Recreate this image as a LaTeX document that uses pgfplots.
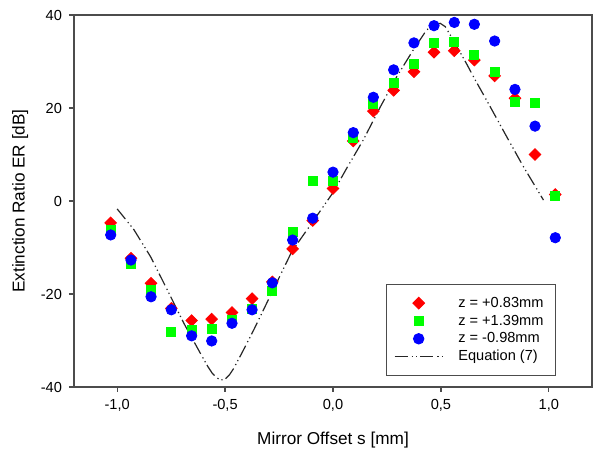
\documentclass[border=0pt]{standalone}
\usepackage{fontspec}
\setmainfont{Liberation Sans}
\usepackage{pgfplots}
\pgfplotsset{compat=1.18}
\definecolor{mred}{RGB}{255,0,0}
\definecolor{mgreen}{RGB}{0,255,0}
\definecolor{mblue}{RGB}{0,0,255}
\pgfplotsset{
  markleg/.style={legend image code/.code={\draw[##1] plot coordinates {(12pt,0pt)};}},
  lineleg/.style={legend image code/.code={\draw[##1] (0pt,0pt) -- (24pt,0pt);}},
}
\begin{document}
\begin{tikzpicture}
\begin{axis}[
  name=ax,
  scale only axis,
  width=259pt, height=186pt,
  xmin=-1.2, xmax=1.2, ymin=-40, ymax=40,
  xtick={-1,-0.5,0,0.5,1},
  ytick={-40,-20,0,20,40},
  xticklabels={{-1,0},{-0,5},{0,0},{0,5},{1,0}},
  yticklabels={-40,-20,0,20,40},
  tick align=outside,
  xtick pos=bottom, ytick pos=left,
  major tick length=2.5pt,
  axis line style={black!70, line width=0.6pt},
  every tick/.style={black!70, line width=0.6pt},
  tick label style={font=\fontsize{7.3}{8}\selectfont},
  label style={font=\fontsize{8.6}{10}\selectfont},
  xlabel={Mirror Offset s [mm]},
  ylabel={Extinction Ratio ER [dB]},
  xlabel style={at={(axis description cs:0.5,-0.1425)}, anchor=center},
  ylabel style={at={(axis description cs:-0.104,0.5)}, anchor=center},
  legend style={at={(axis description cs:0.9305,0.0296)}, anchor=south east,
    draw=black!70, line width=0.5pt, fill=white,
    font=\fontsize{7.3}{8}\selectfont,
    inner xsep=4pt, inner ysep=5pt,
    nodes={text height=5.6pt, text depth=1.5pt, inner ysep=0.9pt, inner xsep=2pt},
    /tikz/every odd column/.append style={column sep=5.5pt}},
  legend cell align=left,
]
\addplot[only marks, mark=square*, mark size=2.05pt, mark options={rotate=45, draw=mred, fill=mred}, markleg]
  coordinates {
(-1.03,-4.7) (-0.936,-12.3) (-0.843,-17.7) (-0.749,-23.1) (-0.655,-25.7)
(-0.562,-25.4) (-0.468,-24.0) (-0.375,-21.0) (-0.281,-17.4) (-0.187,-10.3)
(-0.094,-4.2) (0,2.7) (0.094,12.9) (0.187,19.3) (0.281,23.8)
(0.375,27.8) (0.468,32.0) (0.562,32.3) (0.655,30.3) (0.749,26.9)
(0.843,22.1) (0.936,10.0) (1.03,1.4)
};
\addlegendentry{z = +0.83mm}
\addplot[only marks, mark=square*, mark size=2.25pt, mark options={draw=mgreen, fill=mgreen}, markleg]
  coordinates {
(-1.03,-6.2) (-0.936,-13.5) (-0.843,-19.2) (-0.749,-28.1) (-0.655,-27.7)
(-0.562,-27.6) (-0.468,-25.6) (-0.375,-23.2) (-0.281,-19.4) (-0.187,-6.6)
(-0.094,4.3) (0,4.3) (0.094,13.5) (0.187,20.9) (0.281,25.3)
(0.375,29.5) (0.468,34.0) (0.562,34.3) (0.655,31.4) (0.749,27.8)
(0.843,21.4) (0.936,21.0) (1.03,1.2)
};
\addlegendentry{z = +1.39mm}
\addplot[only marks, mark=*, mark size=2.6pt, mark options={draw=mblue, fill=mblue}, markleg]
  coordinates {
(-1.03,-7.3) (-0.936,-12.7) (-0.843,-20.6) (-0.749,-23.4) (-0.655,-29.0)
(-0.562,-30.1) (-0.468,-26.3) (-0.375,-23.4) (-0.281,-17.6) (-0.187,-8.4)
(-0.094,-3.7) (0,6.2) (0.094,14.7) (0.187,22.3) (0.281,28.2)
(0.375,34.0) (0.468,37.7) (0.562,38.4) (0.655,38.0) (0.749,34.4)
(0.843,24.0) (0.936,16.1) (1.03,-7.9)
};
\addlegendentry{z = -0.98mm}
\addplot[no marks, black!85, line width=0.6pt,
  dash pattern=on 6.5pt off 2pt on 0.6pt off 1.6pt on 0.6pt off 1.6pt, lineleg]
  coordinates {
(-1.00,-1.7) (-0.96,-4.0) (-0.922,-6.2) (-0.845,-12.0) (-0.768,-19.1)
(-0.691,-26.3) (-0.614,-32.8) (-0.58,-35.6) (-0.56,-37.0) (-0.54,-38.0)
(-0.52,-38.5) (-0.50,-38.3) (-0.48,-37.4) (-0.46,-36.0) (-0.42,-32.5)
(-0.367,-27.7) (-0.274,-18.8) (-0.19,-10.8) (-0.09,-4.2) (0,1.8)
(0.063,7.0) (0.14,13.1) (0.22,20.3) (0.295,26.7) (0.372,32.5)
(0.434,36.8) (0.47,37.9) (0.497,38.2) (0.52,37.5) (0.557,34.6)
(0.574,33.2) (0.619,29.5) (0.651,26.7) (0.728,20.3) (0.805,13.8)
(0.882,7.4) (0.975,0.2)
};
\addlegendentry{Equation (7)}
\end{axis}
\pgfresetboundingbox
\path[use as bounding box] ([shift={(-37pt,-35.5pt)}]ax.south west) rectangle ([shift={(4pt,7.5pt)}]ax.north east);
\end{tikzpicture}
\end{document}
